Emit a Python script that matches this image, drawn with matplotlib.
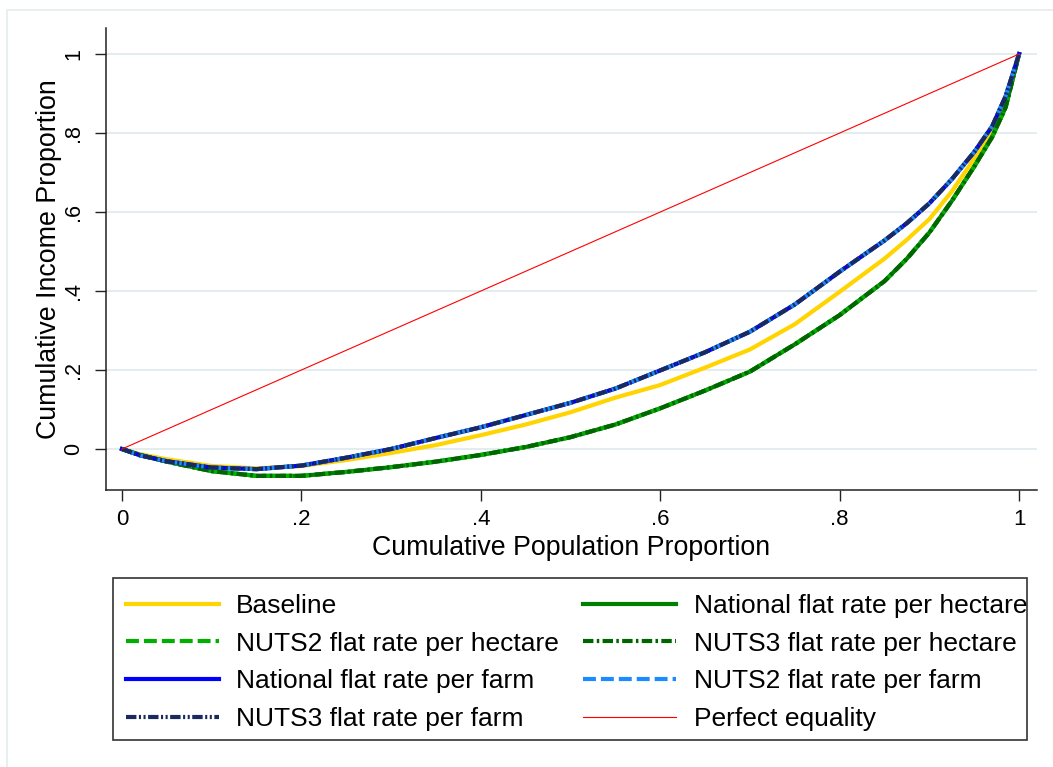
import numpy as np
import matplotlib
matplotlib.use("Agg")
import matplotlib.pyplot as plt
from matplotlib.patches import Rectangle

plt.rcParams['font.family'] = ['Liberation Sans', 'DejaVu Sans']

# cumulative population share (x) and cumulative income shares
pop_share = [0, .02, .05, .1, .15, .2, .25, .3, .35, .4, .45, .5, .55, .6,
             .65, .7, .75, .8, .85, .875, .9, .925, .95, .97, .985, 1]
baseline = [0, -.013, -.026, -.043, -.049, -.043, -.028, -.010, .010, .035, .062,
            .093, .130, .162, .206, .252, .316, .398, .482, .530, .582, .652, .735,
            .805, .870, 1]
per_hectare = [0, -.015, -.032, -.056, -.068, -.068, -.058, -.046, -.032, -.015, .005,
               .030, .062, .103, .148, .196, .265, .339, .425, .482, .548, .628, .715,
               .790, .865, 1]
per_farm = [0, -.016, -.031, -.047, -.051, -.042, -.022, .000, .028, .055, .086,
            .117, .153, .199, .245, .297, .366, .449, .528, .572, .622, .683, .752,
            .817, .893, 1]
equality = [0, 1]

labels = ["Baseline", "National flat rate per hectare", "NUTS2 flat rate per hectare",
          "NUTS3 flat rate per hectare", "National flat rate per farm",
          "NUTS2 flat rate per farm", "NUTS3 flat rate per farm", "Perfect equality"]

W, H = 1053, 767
fig = plt.figure(figsize=(W / 100, H / 100), dpi=100)
fig.patch.set_facecolor('white')

# outer graph region border (stata style)
fig.add_artist(Rectangle((7 / W, -0.1), 1.2, 1 - 10 / H + 0.1, transform=fig.transFigure,
                         fill=False, edgecolor='#e4ecee', lw=1.2))

ax = fig.add_axes([106 / W, 1 - 490 / H, (1037 - 106) / W, (490 - 28) / H])
ax.set_xlim(-0.0178, 1.020)
ax.set_ylim(-0.1038, 1.066)

lw = 3.0
h = []
h += ax.plot(pop_share, baseline, color='#ffd400', lw=lw, label=labels[0])
h += ax.plot(pop_share, per_hectare, color='#008000', lw=lw, label=labels[1])
h += ax.plot(pop_share, per_hectare, color='#00b000', lw=lw, dashes=(3.1, 1.2), label=labels[2])
h += ax.plot(pop_share, per_hectare, color='#006400', lw=lw, dashes=(2.5, 0.8, 0.6, 0.8), label=labels[3])
h += ax.plot(pop_share, per_farm, color='#0000ff', lw=lw, label=labels[4])
h += ax.plot(pop_share, per_farm, color='#1a8cff', lw=lw, dashes=(3.1, 1.2), label=labels[5])
h += ax.plot(pop_share, per_farm, color='#1b2a5e', lw=lw, dashes=(2.5, 0.6, 0.5, 0.6, 0.5, 0.6), label=labels[6])
h += ax.plot(equality, equality, color='#ff0000', lw=0.8, label=labels[7])

ax.set_xticks([0, .2, .4, .6, .8, 1])
ax.set_xticklabels(['0', '.2', '.4', '.6', '.8', '1'])
ax.set_yticks([0, .2, .4, .6, .8, 1])
ax.set_yticklabels(['0', '.2', '.4', '.6', '.8', '1'], rotation=90, va='center')
ax.tick_params(axis='both', direction='out', length=8, width=1, color='#222222')
ax.tick_params(axis='x', pad=6, labelsize=16)
ax.tick_params(axis='y', pad=7.5, labelsize=15.5)
ax.grid(axis='y', color='#e3ecef', lw=1.4)
ax.set_axisbelow(True)
for s in ['top', 'right']:
    ax.spines[s].set_visible(False)
for s in ['left', 'bottom']:
    ax.spines[s].set_linewidth(1.1)
    ax.spines[s].set_color('#222222')

ax.set_xlabel("Cumulative Population Proportion", fontsize=19.3, labelpad=3)
ax.set_ylabel("Cumulative Income Proportion", fontsize=19.3, labelpad=1)

# legend, filled column-wise so reorder to get the row layout
order = [0, 2, 4, 6, 1, 3, 5, 7]
fig.legend([h[i] for i in order], [labels[i] for i in order], ncol=2,
           loc='upper left', bbox_to_anchor=(110 / W, 1 - 578 / H), borderaxespad=0,
           frameon=False, fontsize=19, handlelength=3.52, handletextpad=0.66,
           columnspacing=0.92, labelspacing=0.52, borderpad=0.6)
fig.add_artist(Rectangle((113 / W, 1 - 740 / H), (1027 - 113) / W, (740 - 578) / H,
                         transform=fig.transFigure, fill=False, edgecolor='#333333', lw=1.2))

fig.savefig("out.png", dpi=100)
